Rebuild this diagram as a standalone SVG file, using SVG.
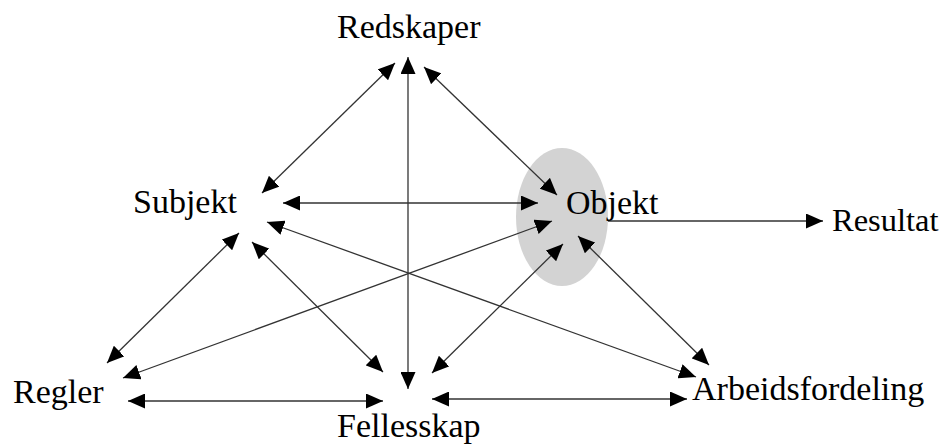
<svg xmlns="http://www.w3.org/2000/svg" width="944" height="445" viewBox="0 0 944 445">
<style>
text{font-family:"Liberation Serif","Times New Roman",serif;font-size:34px;fill:#000}
.c line{stroke:#333;stroke-width:1.3;fill:none}
.b{marker-start:url(#ah);marker-end:url(#ah)}
.s{marker-end:url(#ah)}
</style>
<defs>
<marker id="ah" markerUnits="userSpaceOnUse" markerWidth="17" markerHeight="15" refX="17" refY="7.5" orient="auto-start-reverse" viewBox="0 0 17 15">
<path d="M0,0 L17,7.5 L0,15 z" fill="#000"/>
</marker>
</defs>
<rect width="944" height="445" fill="#fff"/>
<g id="objekt-bg"><ellipse cx="562" cy="217" rx="46" ry="69" fill="#d3d3d3"/></g>
<g id="connectors" class="c">
<line class="b" x1="395" y1="63" x2="262" y2="193"/>
<line class="b" x1="408" y1="57" x2="408" y2="389"/>
<line class="b" x1="424" y1="67" x2="557" y2="195"/>
<line class="b" x1="283" y1="203" x2="538" y2="203"/>
<line class="b" x1="267" y1="222" x2="696" y2="377"/>
<line class="b" x1="239" y1="233" x2="107" y2="363"/>
<line class="b" x1="252" y1="242" x2="383" y2="372"/>
<line class="b" x1="552" y1="221" x2="123" y2="378"/>
<line class="b" x1="563" y1="244" x2="432" y2="373"/>
<line class="b" x1="578" y1="236" x2="709" y2="365"/>
<line class="b" x1="128" y1="401" x2="383" y2="401"/>
<line class="b" x1="432" y1="399" x2="687" y2="399"/>
<line class="s" x1="608" y1="221" x2="823" y2="221"/>
</g>
<g id="redskaper"><text x="337" y="38">Redskaper</text></g>
<g id="subjekt"><text x="133" y="213">Subjekt</text></g>
<g id="objekt"><text x="566" y="214">Objekt</text></g>
<g id="resultat"><text x="832" y="231" style="font-size:32.5px">Resultat</text></g>
<g id="regler"><text x="13" y="403">Regler</text></g>
<g id="fellesskap"><text x="337" y="437">Fellesskap</text></g>
<g id="arbeidsfordeling"><text x="692" y="400">Arbeidsfordeling</text></g>
</svg>
